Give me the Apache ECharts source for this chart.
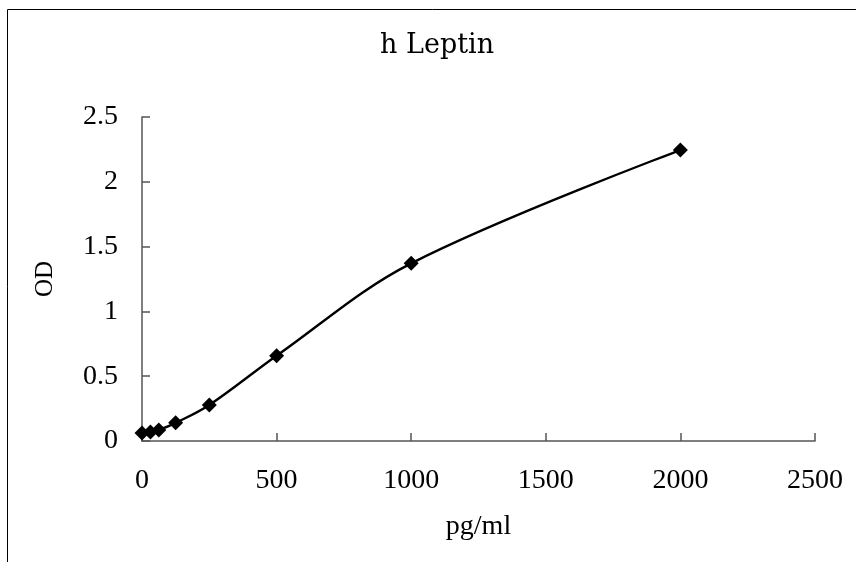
<!DOCTYPE html>
<html>
<head>
<meta charset="utf-8">
<script src="https://cdn.jsdelivr.net/npm/echarts@6/dist/echarts.min.js"></script>
<style>html,body{margin:0;padding:0;background:#fff}#c{width:856px;height:562px}</style>
</head>
<body>
<div id="c"></div>
<script>
var concentrations = [0, 31.25, 62.5, 125, 250, 500, 1000, 2000];
var odValues = [0.062, 0.07, 0.085, 0.14, 0.278, 0.658, 1.371, 2.245];
var titleText = 'h Leptin';
var xName = 'pg/ml';
var yName = 'OD';

var chart = echarts.init(document.getElementById('c'));
var points = concentrations.map(function (x, i) { return [x, odValues[i]]; });
var serif = '"Liberation Serif", "DejaVu Serif", serif';
chart.setOption({
  animation: false,
  backgroundColor: '#fff',
  title: {
    text: titleText, left: 375, top: 27,
    textStyle: { fontFamily: '"DejaVu Serif", serif', fontSize: 27, fontWeight: 'normal', color: '#000' }
  },
  graphic: [{
    type: 'rect', left: 5, top: 7, silent: true,
    shape: { width: 900, height: 620 },
    style: { fill: 'none', stroke: '#000', lineWidth: 1 }
  }],
  grid: { left: 142, right: 41, top: 117, bottom: 121 },
  xAxis: {
    type: 'value', min: 0, max: 2500, interval: 500,
    name: xName, nameLocation: 'middle', nameGap: 72,
    nameTextStyle: { fontFamily: serif, fontSize: 28, color: '#000' },
    axisLine: { show: true, lineStyle: { color: '#555', width: 1.5 } },
    axisTick: { show: true, inside: true, length: 8, lineStyle: { color: '#555', width: 1.5 } },
    axisLabel: { margin: 26, fontFamily: serif, fontSize: 28, color: '#000',
      formatter: function (v) { return String(v); } },
    splitLine: { show: false }
  },
  yAxis: {
    type: 'value', min: 0, max: 2.5, interval: 0.5,
    name: yName, nameLocation: 'middle', nameGap: 84, nameRotate: 90,
    nameTextStyle: { fontFamily: serif, fontSize: 25, color: '#000' },
    axisLine: { show: true, lineStyle: { color: '#555', width: 1.5 } },
    axisTick: { show: true, inside: true, length: 8, lineStyle: { color: '#555', width: 1.5 } },
    axisLabel: { margin: 24, fontFamily: serif, fontSize: 28, color: '#000',
      formatter: function (v) { return String(v); } },
    splitLine: { show: false }
  },
  series: [{
    type: 'line', data: points, smooth: 0.35,
    symbol: 'diamond', symbolSize: 15,
    lineStyle: { color: '#000', width: 2.4 },
    itemStyle: { color: '#000' }
  }]
});
</script>
</body>
</html>
